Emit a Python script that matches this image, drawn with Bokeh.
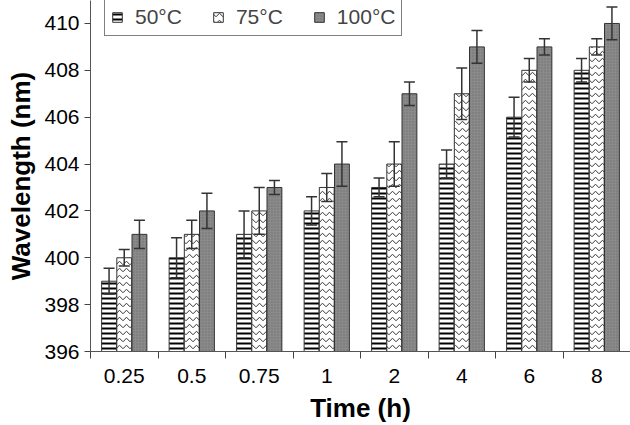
import numpy as np
from bokeh.plotting import figure
from bokeh.models import (ColumnDataSource, Whisker, FixedTicker, Range1d, Legend,
                          LegendItem, TeeHead)
from bokeh.transform import dodge
from bokeh.embed import file_html
from bokeh.resources import INLINE

# ---- data ----
times = ["0.25", "0.5", "0.75", "1", "2", "4", "6", "8"]
series = ["50°C", "75°C", "100°C"]
v50 = [399, 400, 401, 402, 403, 404, 406, 408]
e50 = [0.55, 0.85, 1.0, 0.6, 0.4, 0.6, 0.85, 0.5]
v75 = [400, 401, 402, 403, 404, 407, 408, 409]
e75 = [0.35, 0.6, 1.0, 0.6, 0.95, 1.1, 0.5, 0.35]
v100 = [401, 402, 403, 404, 407, 409, 409, 410]
e100 = [0.6, 0.75, 0.3, 0.95, 0.5, 0.7, 0.35, 0.7]
y_ticks = [396, 398, 400, 402, 404, 406, 408, 410]
base = 396

FONT = "Liberation Sans"
centers = [i + 0.5 for i in range(len(times))]
bounds = list(range(len(times) + 1))

W, H = 630, 425
FRAME_H = 352
p = figure(width=W, height=H, output_backend="svg", toolbar_location=None,
           x_range=Range1d(0, len(times)), y_range=Range1d(base, 410.98),
           min_border_left=90, min_border_right=0, min_border_top=0,
           min_border_bottom=H - FRAME_H)
p.outline_line_color = None
p.xgrid.grid_line_color = None
p.ygrid.grid_line_color = None
p.background_fill_color = "white"

styles = [
    dict(fill_color="white", hatch_pattern="horizontal_line", hatch_color="black",
         hatch_scale=5, hatch_weight=2),
    dict(fill_color="white", hatch_pattern="horizontal_wave", hatch_color="#333333",
         hatch_scale=7, hatch_weight=1),
    dict(fill_color="#8a8a8a", hatch_pattern="dot", hatch_color="#707070",
         hatch_scale=3, hatch_weight=1),
]
vals = [v50, v75, v100]
errs = [e50, e75, e100]
offsets = [-0.225, 0.0, 0.225]

items = []
for name, v, e, off, st in zip(series, vals, errs, offsets, styles):
    src = ColumnDataSource(dict(
        x=centers, top=v,
        upper=[a + b for a, b in zip(v, e)],
        lower=[a - b for a, b in zip(v, e)],
    ))
    r = p.vbar(x=dodge("x", off), top="top", bottom=base, width=0.22, source=src,
               line_color="#333333", line_width=1, **st)
    w = Whisker(source=src, base=dodge("x", off), upper="upper", lower="lower",
                line_color="#333333", line_width=1.5, level="overlay",
                upper_head=TeeHead(size=11, line_color="#333333", line_width=1.5),
                lower_head=TeeHead(size=11, line_color="#333333", line_width=1.5))
    p.add_layout(w)
    items.append(LegendItem(label=name, renderers=[r]))

legend = Legend(items=items, orientation="horizontal", location=(14, FRAME_H - 37),
                border_line_color="black", border_line_width=1,
                label_text_font=FONT, label_text_font_size="21px",
                glyph_width=12, glyph_height=12, label_standoff=12, spacing=30,
                padding=6, margin=0, background_fill_alpha=1)
p.add_layout(legend)

# x axis
xa = p.xaxis[0]
xa.ticker = FixedTicker(ticks=centers, minor_ticks=bounds)
xa.major_label_overrides = {c: t for c, t in zip(centers, times)}
xa.major_tick_line_color = None
xa.major_tick_out = 0
xa.major_tick_in = 0
xa.minor_tick_line_color = "#444444"
xa.minor_tick_out = 7
xa.minor_tick_in = 0
xa.axis_line_color = "#555555"
xa.major_label_text_font = FONT
xa.major_label_text_font_size = "21px"
xa.major_label_text_color = "black"
xa.major_label_text_line_height = 1.0
xa.major_label_standoff = 10
xa.axis_label = "Time (h)"
xa.axis_label_text_font = FONT
xa.axis_label_text_font_style = "bold"
xa.axis_label_text_font_size = "26px"
xa.axis_label_text_color = "black"
xa.axis_label_text_line_height = 1.0
xa.axis_label_standoff = 7

# y axis
ya = p.yaxis[0]
ya.ticker = FixedTicker(ticks=y_ticks, minor_ticks=[])
ya.major_tick_out = 6
ya.major_tick_in = 0
ya.major_tick_line_color = "#444444"
ya.axis_line_color = "#555555"
ya.major_label_text_font = FONT
ya.major_label_text_font_size = "21px"
ya.major_label_text_color = "black"
ya.major_label_standoff = 5
ya.axis_label = "Wavelength (nm)"
ya.axis_label_text_font = FONT
ya.axis_label_text_font_style = "bold"
ya.axis_label_text_font_size = "26px"
ya.axis_label_text_color = "black"
ya.axis_label_text_line_height = 1.0
ya.axis_label_standoff = 5

open("out.html", "w").write(file_html(p, INLINE))
